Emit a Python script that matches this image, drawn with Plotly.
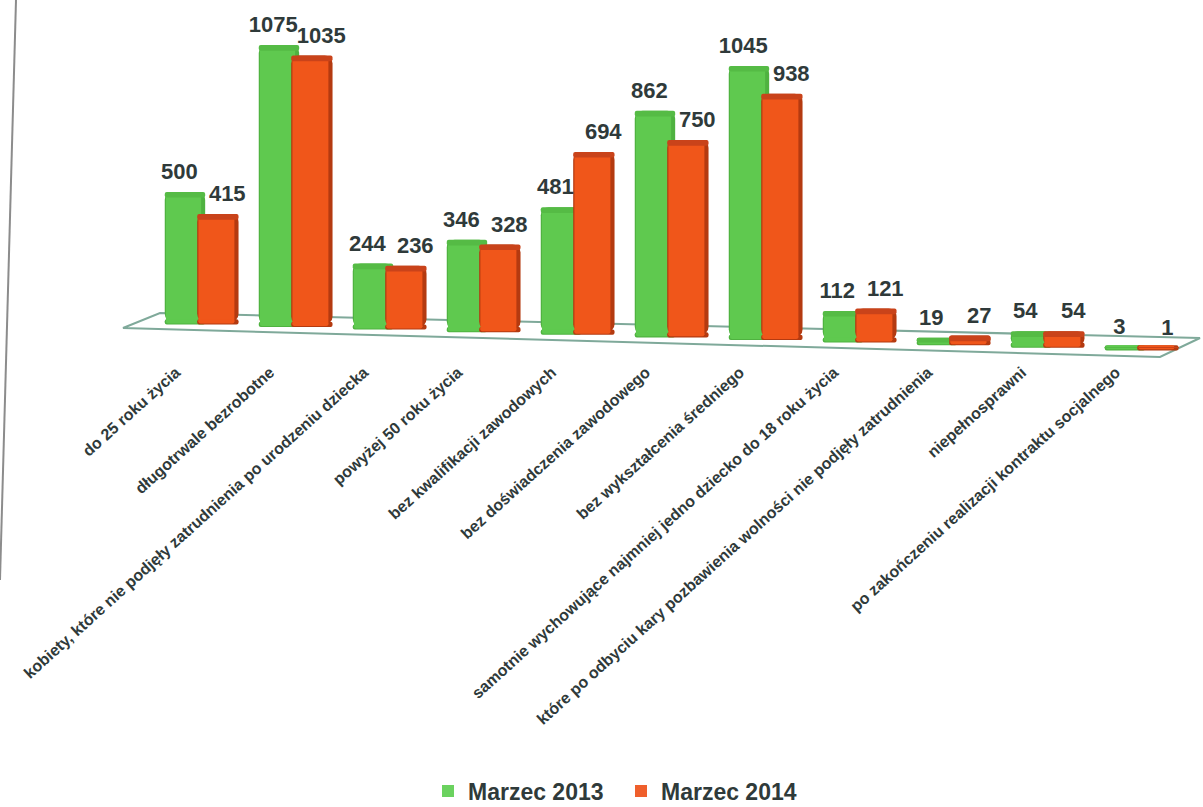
import plotly.graph_objects as go

categories = ["do 25 roku życia", "długotrwale bezrobotne",
              "kobiety, które nie podjęły zatrudnienia po urodzeniu dziecka",
              "powyżej 50 roku życia", "bez kwalifikacji zawodowych",
              "bez doświadczenia zawodowego", "bez wykształcenia średniego",
              "samotnie wychowujące najmniej jedno dziecko do 18 roku życia",
              "które po odbyciu kary pozbawienia wolności nie podjęły zatrudnienia",
              "niepełnosprawni", "po zakończeniu realizacji kontraktu socjalnego"]
marzec_2013 = [500, 1075, 244, 346, 481, 862, 1045, 112, 19, 54, 3]
marzec_2014 = [415, 1035, 236, 328, 694, 750, 938, 121, 27, 54, 1]

W, H = 1203, 807
L, R, T, B = 153, 16, 36, 454
TEXT = "#2f3a3a"
positions = list(range(len(categories)))
floor = [-10 * i for i in positions]   # tilted floor of the 3D original
SKIRT = 20
CAP = 22


def px(x, y):
    return (x - L) / (W - L - R), 1 - (y - T) / (H - T - B)


def path(points):
    parts = [f"{'M' if i == 0 else 'L'} {px(*p)[0]:.5f} {px(*p)[1]:.5f}" for i, p in enumerate(points)]
    return " ".join(parts) + " Z"


fig = go.Figure()


def cylinder(values, offset, width, edge, body, cap):
    xs = [p + offset for p in positions]
    tops = [b + v for b, v in zip(floor, values)]
    inner = width * 0.87
    left = -width / 2 + width * 0.03
    common = dict(x=xs, showlegend=False, hoverinfo="skip")
    fig.add_bar(y=[-SKIRT] * len(xs), base=[b + SKIRT / 2 for b in floor], width=width,
                marker=dict(color=edge, cornerradius=9, line_width=0), **common)
    fig.add_bar(y=values, base=floor, width=width,
                marker=dict(color=edge, cornerradius=8, line_width=0), **common)
    fig.add_bar(y=[max(v - CAP / 2, 0) for v in values], base=floor, width=inner, offset=left,
                marker=dict(color=body, line_width=0), **common)
    fig.add_bar(y=[-SKIRT + 4] * len(xs), base=[b + SKIRT / 2 for b in floor], width=inner, offset=left,
                marker=dict(color=body, cornerradius=7, line_width=0), **common)
    fig.add_bar(y=[min(CAP, v) for v in values], base=[t - min(CAP, v) for t, v in zip(tops, values)],
                width=width, marker=dict(color=cap, cornerradius=8, line_width=0), **common)


cylinder(marzec_2013, -0.16, 0.43, "#4fb240", "#5fc94f", "#55bb45")
cylinder(marzec_2014, 0.19, 0.44, "#b43a10", "#f0561a", "#c9431a")

for name, values, shift, color in [("Marzec 2013", marzec_2013, -0.22, "#6bd25f"),
                                   ("Marzec 2014", marzec_2014, 0.29, "#ef5f2c")]:
    fig.add_scatter(x=[p + shift for p in positions],
                    y=[b + v + 28 for b, v in zip(floor, values)],
                    mode="text", text=values, textposition="top center", cliponaxis=False,
                    textfont=dict(size=22, color=TEXT, family="Liberation Sans", weight="bold"),
                    showlegend=False, hoverinfo="skip")
    fig.add_scatter(x=[None], y=[None], mode="markers", name=name,
                    marker=dict(symbol="square", size=17, color=color))

fig.update_layout(
    width=W, height=H, paper_bgcolor="white", plot_bgcolor="rgba(0,0,0,0)",
    margin=dict(l=L, r=R, t=T, b=B, autoexpand=False),
    barmode="overlay", showlegend=True,
    font=dict(family="Liberation Sans", color=TEXT),
    xaxis=dict(tickmode="array", tickvals=positions, ticktext=categories, range=[-0.5, 10.5],
               tickangle=-42, tickfont=dict(size=16, color=TEXT, weight="bold"), showline=False, ticks="",
               showgrid=False, zeroline=False, ticklabelshift=-24, ticklabelstandoff=6),
    yaxis=dict(visible=False, range=[-120, 1100], fixedrange=True, showgrid=False, zeroline=False),
    legend=dict(orientation="h", x=px(428, 0)[0], xanchor="left", y=px(0, 791)[1], yanchor="middle",
                itemsizing="constant", tracegroupgap=0, itemwidth=30, entrywidth=148,
                font=dict(size=23, color=TEXT, family="Liberation Sans", weight="bold")),
    shapes=[
        dict(type="path", xref="paper", yref="paper", layer="below",
             path=path([(123, 328), (1160, 357), (1200, 338), (160, 313)]),
             line=dict(color="#7fa99a", width=2), fillcolor="white"),
        dict(type="line", xref="paper", yref="paper", layer="below",
             x0=px(16, 0)[0], y0=px(16, 0)[1], x1=px(0, 580)[0], y1=px(0, 580)[1],
             line=dict(color="#8c8c8c", width=2)),
    ],
)
fig.write_html("out.html", post_script="document.body.style.margin='0';",
               config=dict(displayModeBar=False))
